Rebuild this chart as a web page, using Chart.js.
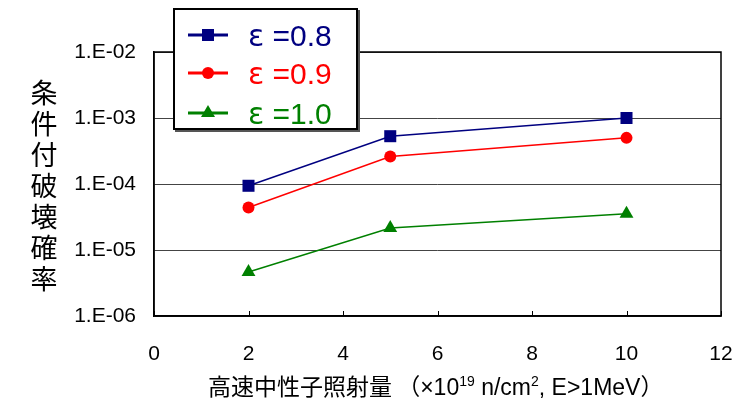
<!DOCTYPE html>
<html><head><meta charset="utf-8">
<script src="https://cdn.jsdelivr.net/npm/chart.js@4/dist/chart.umd.min.js"></script>
<style>
html,body{margin:0;padding:0;background:#fff;}
#wrap{position:relative;width:749px;height:404px;}
canvas{position:absolute;left:0;top:0;}
#ytitle{position:absolute;left:28px;top:76px;width:32px;font-family:"Noto Sans CJK JP";font-size:27px;line-height:31px;color:#000;text-align:center;}
#xtitle{position:absolute;left:208px;top:370px;white-space:nowrap;font-family:"Noto Sans CJK JP","Liberation Sans";font-size:23px;line-height:30px;color:#000;}
#xtitle .lat{font-family:"Liberation Sans";}
#xtitle sup{font-size:14px;vertical-align:0;position:relative;top:-9px;}
#legend{position:absolute;left:173px;top:8px;width:181px;height:118px;border:2px solid #000;background:#fff;box-shadow:2px 2px 0 #555;font-family:"Liberation Sans";font-size:30px;}
.row{position:absolute;left:0;height:30px;}
.row svg{position:absolute;left:13px;top:0;}
.row span{position:absolute;left:73px;top:-4px;white-space:nowrap;}
.row .eps{font-family:"DejaVu Sans";position:static;}
</style></head><body>
<div id="wrap">
<canvas id="c" width="749" height="404"></canvas>
<div id="ytitle"></div>
<div id="xtitle"></div>
<div id="legend"></div>
</div>
<script>
const fluence = [2, 5, 10];
const seriesNames = ['ε =0.8', 'ε =0.9', 'ε =1.0'];
const eps08 = [9.4e-5, 5.3e-4, 1.0e-3];
const eps09 = [4.4e-5, 2.6e-4, 5.0e-4];
const eps10 = [4.65e-6, 2.15e-5, 3.55e-5];
const seriesColors = ['#000080', '#FF0000', '#008000'];
const pointStyles = ['rect', 'circle', 'triangle'];
const yTickValues = [1e-6, 1e-5, 1e-4, 1e-3, 1e-2];
const yTickLabels = ['1.E-06', '1.E-05', '1.E-04', '1.E-03', '1.E-02'];
const xTickValues = [0, 2, 4, 6, 8, 10, 12];
const yTitle = '条件付破壊確率';
const xTitleMain = '高速中性子照射量';

document.getElementById('ytitle').innerHTML = yTitle.split('').join('<br>');
document.getElementById('xtitle').innerHTML = xTitleMain + ' （<span class="lat">×10<sup>19</sup> n/cm<sup>2</sup>, E&gt;1MeV</span>）';

const seriesData = [eps08, eps09, eps10];
const radii = [8.5, 6, 8];

// HTML legend
const leg = document.getElementById('legend');
const rowTops = [12, 50, 90];
seriesNames.forEach((n, i) => {
  const c = seriesColors[i];
  let mk = '';
  if (i === 0) mk = `<rect x="14" y="7" width="12" height="12" fill="${c}"/>`;
  if (i === 1) mk = `<circle cx="20" cy="13" r="6" fill="${c}"/>`;
  if (i === 2) mk = `<polygon points="20,5 27,17 13,17" fill="${c}"/>`;
  const parts = n.split(' ');
  leg.innerHTML += `<div class="row" style="top:${rowTops[i]}px"><svg width="42" height="26"><line x1="0" y1="13" x2="40" y2="13" stroke="${c}" stroke-width="3"/>${mk}</svg><span style="color:${c}"><span class="eps">${parts[0]}</span> ${parts[1]}</span></div>`;
});

const frame = {
  id: 'frame',
  afterDraw(chart) {
    const {ctx, chartArea: a} = chart;
    const xs = chart.scales.x;
    ctx.save();
    ctx.strokeStyle = '#000';
    ctx.lineWidth = 1;
    xTickValues.forEach(v => {
      const px = Math.round(xs.getPixelForValue(v)) + 0.5;
      ctx.beginPath(); ctx.moveTo(px, a.bottom); ctx.lineTo(px, a.bottom - 5); ctx.stroke();
    });
    ctx.lineWidth = 1.5;
    ctx.strokeRect(a.left, a.top, a.right - a.left, a.bottom - a.top);
    ctx.restore();
  }
};

new Chart(document.getElementById('c'), {
  type: 'line',
  data: {
    datasets: seriesData.map((d, i) => ({
      label: seriesNames[i],
      data: d.map((v, j) => ({x: fluence[j], y: v})),
      borderColor: seriesColors[i],
      backgroundColor: seriesColors[i],
      borderWidth: 1.5,
      pointStyle: pointStyles[i],
      pointRadius: radii[i],
      pointBorderWidth: 0,
      tension: 0
    }))
  },
  options: {
    responsive: false,
    animation: false,
    layout: {padding: {left: 0, top: 52, right: 28, bottom: 0}},
    plugins: {legend: {display: false}, tooltip: {enabled: false}},
    scales: {
      x: {
        type: 'linear', min: 0, max: 12,
        afterBuildTicks: s => { s.ticks = xTickValues.map(v => ({value: v})); },
        afterFit: s => { s.height = 88; s.paddingLeft = 0; s.paddingRight = 0; },
        grid: {display: false, drawTicks: false},
        border: {display: true, color: '#000', width: 1.5},
        ticks: {color: '#000', padding: 26, maxRotation: 0, font: {family: 'Liberation Sans', size: 21}}
      },
      y: {
        type: 'logarithmic', min: 1e-6, max: 1e-2,
        afterBuildTicks: s => { s.ticks = yTickValues.map(v => ({value: v})); },
        afterFit: s => { s.width = 154; s.paddingTop = 0; s.paddingBottom = 0; },
        grid: {color: '#444', lineWidth: 1, drawTicks: false},
        border: {display: true, color: '#000', width: 1.5},
        ticks: {color: '#000', padding: 18, font: {family: 'Liberation Sans', size: 21},
          callback: (v) => { const k = yTickValues.findIndex(t => Math.abs(Math.log10(t) - Math.log10(v)) < 1e-6); return k >= 0 ? yTickLabels[k] : ''; }}
      }
    }
  },
  plugins: [frame]
});
</script>
</body></html>
